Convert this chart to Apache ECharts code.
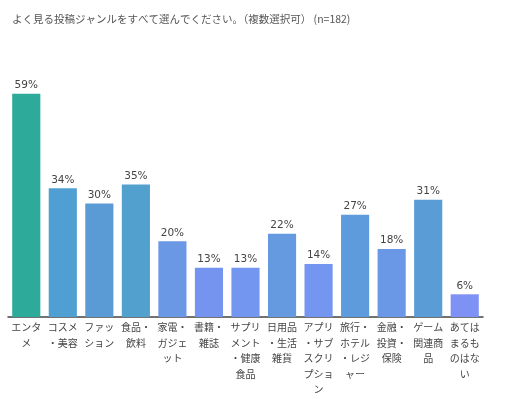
<!DOCTYPE html>
<html>
<head>
<meta charset="utf-8">
<script src="https://cdn.jsdelivr.net/npm/echarts@6/dist/echarts.min.js"></script>
<style>
  html, body { margin: 0; padding: 0; background: #fff; }
  #chart { width: 506px; height: 399px; }
</style>
</head>
<body>
<div id="chart"></div>
<script>
var titleText = 'よく見る投稿ジャンルをすべて選んでください。（複数選択可） (n=182)';
var categories = ['エンタメ', 'コスメ・美容', 'ファッション', '食品・飲料', '家電・ガジェット', '書籍・雑誌',
  'サプリメント・健康食品', '日用品・生活雑貨', 'アプリ・サブスクリプション', '旅行・ホテル・レジャー',
  '金融・投資・保険', 'ゲーム関連商品', 'あてはまるものはない'];
var values = [59, 34, 30, 35, 20, 13, 13, 22, 14, 27, 18, 31, 6];
var barColors = ['#2eaa9a', '#509fd3', '#5a9bd6', '#52a0cd', '#6a98e4', '#7594f0', '#7396f0',
  '#6599e0', '#7596f0', '#5e9bdc', '#6b98e6', '#5a9dd6', '#7e91f5'];

var myChart = echarts.init(document.getElementById('chart'));

// 3文字ごとに改行
function wrap(s) {
  var out = [];
  for (var i = 0; i < s.length; i += 3) out.push(s.slice(i, i + 3));
  return out.join('\n');
}

myChart.setOption({
  animation: false,
  textStyle: { fontFamily: 'Noto Sans CJK JP' },
  title: {
    text: titleText,
    left: 7,
    top: 9,
    textStyle: { fontSize: 10.5, fontWeight: 'normal', color: '#555' }
  },
  grid: { left: 8, right: 23, top: 90, bottom: 82 },
  xAxis: {
    type: 'category',
    data: categories,
    axisTick: { show: false },
    axisLine: { lineStyle: { color: '#444', width: 1.5 } },
    axisLabel: {
      interval: 0,
      color: '#444',
      fontSize: 10,
      lineHeight: 15.4,
      margin: 3,
      formatter: wrap
    }
  },
  yAxis: {
    type: 'value',
    min: 0,
    max: 60,
    show: false
  },
  series: [{
    type: 'bar',
    data: values.map(function (v, i) {
      return { value: v, itemStyle: { color: barColors[i] } };
    }),
    barWidth: '77%',
    label: {
      show: true,
      position: 'top',
      distance: 3,
      fontSize: 10.5,
      color: '#444',
      fontFamily: 'DejaVu Sans',
      formatter: '{c}%'
    }
  }]
});
</script>
</body>
</html>
